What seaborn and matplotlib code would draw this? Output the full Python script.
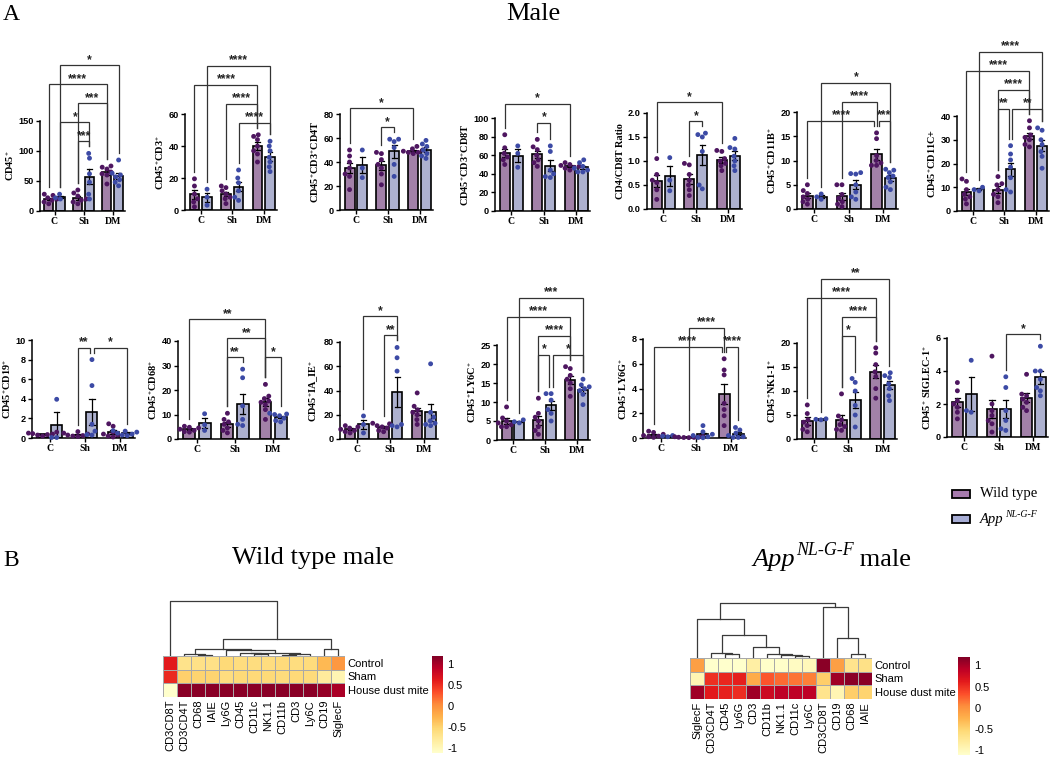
import warnings
import numpy as np
import pandas as pd
import matplotlib
matplotlib.use('Agg')
import matplotlib.pyplot as plt
import seaborn as sns

warnings.filterwarnings('ignore')

# ---- panel A data: points per bar, order C-WT, C-App, Sh-WT, Sh-App, DM-WT, DM-App
groups = ['C', 'Sh', 'DM']
genotypes = ['Wild type', 'App']

cd45 = [[28, 26, 22, 18, 15, 12, 20], [28, 22, 20], [35, 30, 25, 20, 18, 15, 12],
        [96, 88, 62, 48, 28, 20], [75, 73, 70, 65, 62, 60, 45], [85, 63, 60, 57, 52, 48, 42]]
cd3 = [[19.5, 15, 10, 7, 5, 2], [13, 8, 3], [15, 14, 12, 10, 8, 7, 4],
       [25, 20, 17, 12, 8, 6], [47, 46, 44, 40, 37, 35, 30], [43, 40, 37, 33, 30, 27, 24]]
cd4t = [[50, 45, 40, 35, 30, 28, 17], [50, 35, 27], [48, 47, 42, 38, 35, 30, 21],
        [59, 59, 57, 52, 38, 28], [53, 51, 50, 49, 48, 47, 48], [58, 55, 53, 50, 47, 45, 43]]
cd8t = [[82, 68, 62, 58, 55, 50], [70, 62, 47], [77, 69, 66, 60, 55, 52, 48],
        [70, 64, 44, 40, 37, 36], [52, 50, 49, 48, 47, 46, 44], [55, 52, 48, 46, 44, 42, 42]]
ratio = [[1.05, 0.72, 0.6, 0.55, 0.4, 0.2], [1.07, 0.6, 0.38], [0.95, 0.92, 0.72, 0.6, 0.5, 0.4, 0.28],
         [1.58, 1.55, 1.5, 1.2, 0.5, 0.42], [1.22, 1.2, 1.05, 1.0, 0.95, 0.9, 0.8],
         [1.47, 1.28, 1.25, 1.1, 1.0, 0.9, 0.8]]
cd11b = [[5, 3.8, 3.2, 2.5, 2, 1.5, 1], [3.1, 2.5, 2.0], [5.0, 5.0, 3, 2.2, 1.5, 1, 0.5],
         [7.5, 7.3, 7.2, 5, 3.5, 2.5, 2], [15.7, 14.5, 11, 10, 9.5, 9, 9],
         [8.2, 8, 7.5, 6.8, 6.5, 5.6, 4.5, 4]]
cd11c = [[13.5, 12.5, 9, 7, 6, 5, 3], [10, 9, 8.5], [14.5, 11.5, 11, 9, 7, 6, 3.5],
         [27.5, 24, 21.5, 18.5, 14, 9, 8], [38, 35, 32, 31, 30, 28, 27], [35, 34, 30, 28, 25, 23, 18]]
cd19 = [[0.6, 0.5, 0.45, 0.4, 0.35, 0.3, 0.2], [3.95, 0.05, 0.05], [0.65, 0.5, 0.4, 0.3, 0.25, 0.2, 0.15],
        [8.0, 5.35, 1.4, 0.7, 0.3, 0.35], [1.45, 1.2, 0.6, 0.4, 0.3, 0.2, 0.1],
        [0.75, 0.7, 0.6, 0.5, 0.4, 0.3, 0.25]]
cd68 = [[5.2, 4.8, 4.5, 4, 3.5, 3, 2.8], [10.3, 5.8, 3.5], [10.5, 8, 7, 6, 4.5, 3.5, 2.5],
        [28.5, 25, 13.5, 8, 6, 5.5], [22.3, 17.5, 16.5, 15.5, 15, 14, 12, 8],
        [10.5, 10.2, 10, 9.5, 8.5, 7.5, 7]]
iaie = [[11, 10, 9, 8, 7, 6, 5], [19, 12, 5], [13, 12.5, 11, 10, 9, 7, 6],
        [75.5, 67, 56, 12, 11, 10], [38, 27, 24, 22, 20, 16, 12], [62, 22, 18, 15, 13, 12, 11]]
ly6c = [[8.7, 5.8, 5, 4.5, 4, 3.5, 3.5], [5.3, 4.8, 4.5], [11, 7, 6, 5, 3.5, 2.5, 1.5],
        [12.2, 12.2, 10.5, 8, 7, 5], [19.3, 18.8, 17, 16, 15, 13.5, 11.5],
        [16, 14.5, 14, 13.5, 13, 12, 9.3]]
ly6g = [[0.55, 0.45, 0.3, 0.2, 0.15, 0.1, 0.05], [0.2, 0.15, 0.1],
        [0.12, 0.1, 0.08, 0.06, 0.05, 0.04, 0.03], [1.0, 0.5, 0.3, 0.2, 0.1, 0.05, 0.02],
        [6.4, 5.5, 5.1, 2.8, 2.3, 1.8, 1.0], [0.85, 0.65, 0.4, 0.2, 0.1, 0.05, 0.05]]
nk11 = [[7.1, 5.3, 4.0, 3.5, 2.8, 2.0, 1.5], [4.2, 4.1, 4.0], [9.4, 4.8, 4.0, 3.0, 2.6, 2.0, 1.8],
        [12.6, 11.8, 10, 7, 5, 2.5], [19, 17.9, 15.5, 14, 13, 10.5, 8.5],
        [13.8, 13.2, 12.8, 11.5, 10.5, 9, 8]]
siglec = [[3.3, 2.8, 2.2, 2.0, 1.8, 1.5, 1.1], [4.65, 1.6, 1.5], [4.9, 2.0, 1.6, 1.3, 1.0, 0.8, 0.3],
          [3.65, 3.0, 1.6, 1.0, 0.5, 0.4], [3.8, 2.6, 2.5, 2.3, 2.1, 1.8, 1.6],
          [5.5, 4.0, 4.0, 3.5, 3.0, 2.8, 2.5]]

# significance comparisons (bar index a, bar index b, label), listed bottom to top
sig_cd45 = [(2, 3, '***'), (1, 3, '*'), (2, 4, '***'), (0, 4, '****'), (1, 5, '*')]
sig_cd3 = [(3, 5, '****'), (2, 4, '****'), (0, 4, '****'), (1, 5, '****')]
sig_cd4t = [(2, 3, '*'), (0, 4, '*')]
sig_cd8t = [(2, 3, '*'), (0, 4, '*')]
sig_ratio = [(2, 3, '*'), (0, 4, '*')]
sig_cd11b = [(4, 5, '***'), (0, 4, '****'), (2, 4, '****'), (1, 5, '*')]
sig_cd11c = [(2, 3, '**'), (3, 5, '**'), (2, 4, '****'), (0, 4, '****'), (1, 5, '****')]
sig_cd19 = [(2, 3, '**'), (3, 5, '*')]
sig_cd68 = [(2, 3, '**'), (4, 5, '*'), (2, 4, '**'), (0, 4, '**')]
sig_iaie = [(2, 3, '**'), (1, 3, '*')]
sig_ly6c = [(2, 3, '*'), (3, 5, '*'), (2, 4, '****'), (0, 4, '****'), (1, 5, '***')]
sig_ly6g = [(4, 5, '****'), (0, 4, '****'), (2, 4, '****')]
sig_nk11 = [(2, 3, '*'), (2, 4, '****'), (0, 4, '****'), (1, 5, '**')]
sig_siglec = [(3, 5, '*')]

P = r'$^{\mathbf{+}}$'
ylabels = ['CD45' + P, 'CD45' + P + 'CD3' + P, 'CD45' + P + 'CD3' + P + 'CD4T',
           'CD45' + P + 'CD3' + P + 'CD8T', 'CD4/CD8T Ratio', 'CD45' + P + 'CD11B' + P,
           'CD45' + P + 'CD11C+', 'CD45' + P + 'CD19' + P, 'CD45' + P + 'CD68' + P,
           'CD45' + P + 'IA_IE' + P, 'CD45' + P + 'LY6C' + P, 'CD45' + P + 'LY6G' + P,
           'CD45' + P + 'NK1-1' + P, 'CD45' + P + ' SIGLEC-1' + P]
y_max = [150, 60, 80, 100, 2.0, 20, 40, 10, 40, 80, 25, 8, 20, 6]
y_step = [50, 20, 20, 20, 0.5, 5, 10, 2, 10, 20, 5, 2, 5, 2]

# ---- panel B data: row z-scores
conditions = ['Control', 'Sham', 'House dust mite']
wt_cols = ['CD3CD8T', 'CD3CD4T', 'CD68', 'IAIE', 'Ly6G', 'CD45', 'CD11c', 'NK1.1',
           'CD11b', 'CD3', 'Ly6C', 'CD19', 'SiglecF']
wt_control = [0.62, -0.68, -0.65, -0.65, -0.55, -0.6, -0.6, -0.6, -0.57, -0.6, -0.58, -0.3, -0.05]
wt_sham = [0.53, -0.47, -0.5, -0.5, -0.6, -0.55, -0.55, -0.55, -0.58, -0.55, -0.57, -0.8, -0.95]
wt_hdm = [-1.15, 1.15, 1.15, 1.15, 1.15, 1.15, 1.15, 1.15, 1.15, 1.15, 1.15, 1.1, 1.0]
app_cols = ['SiglecF', 'CD3CD4T', 'CD45', 'Ly6G', 'CD3', 'CD11b', 'NK1.1', 'CD11c',
            'Ly6C', 'CD3CD8T', 'CD19', 'CD68', 'IAIE']
app_control = [-0.1, -1.12, -1.13, -1.12, -0.85, -1.1, -1.1, -1.05, -1.0, 1.15, -0.1, -0.7, -0.65]
app_sham = [-0.95, 0.5, 0.55, 0.6, -0.2, 0.3, 0.2, 0.15, 0.1, -0.45, 1.05, 1.15, 1.15]
app_hdm = [1.05, 0.62, 0.58, 0.52, 1.05, 0.8, 0.9, 0.9, 0.9, -0.7, -0.95, -0.45, -0.5]
# dendrograms: (merge height, left, right), leaves are column indices
wt_tree = (168, 0, (51, (20, (5, 1, (3, 2, 3)),
                        (18, 4, (10, (8, 5, (5, 6, 7)), (5, (3, 8, 9), 10)))),
                    (20, 11, 12)))
app_tree = (166, (118, 0, (68, (15, 1, (11, 2, 3)), (33, 4, (13, 5, (8, 6, (5, 7, 8)))))),
            (153, 9, (61, 10, (11, 11, 12))))

# ---- style
plt.rcParams['mathtext.fontset'] = 'custom'
plt.rcParams['mathtext.rm'] = 'Liberation Serif'
plt.rcParams['mathtext.it'] = 'Liberation Serif:italic'
plt.rcParams['mathtext.bf'] = 'Liberation Serif:bold'
wt_bar, app_bar = '#A77BAE', '#A7ADD5'
wt_dot, app_dot = '#4E1660', '#3C4AA5'
SERIF = 'Liberation Serif'
SANS = 'Liberation Sans'

W, H = 1050, 757
fig = plt.figure(figsize=(W / 100, H / 100), dpi=100)


def px_axes(x0, x1, ytop, ybot):
    return fig.add_axes([x0 / W, 1 - ybot / H, (x1 - x0) / W, (ybot - ytop) / H])


def fig_text(x, y, s, **kw):
    return fig.text(x / W, 1 - y / H, s, **kw)


def bar_x(k):
    return k // 2 + (-0.2 if k % 2 == 0 else 0.2)


def bar_panel(box, values, ylabel, ymax, ystep, sigs):
    ax = px_axes(*box)
    rows = [(groups[k // 2], genotypes[k % 2], v) for k, vals in enumerate(values) for v in vals]
    df = pd.DataFrame(rows, columns=['group', 'genotype', 'value'])
    sns.barplot(data=df, x='group', y='value', hue='genotype', order=groups,
                hue_order=genotypes, palette=[wt_bar, app_bar], errorbar='se',
                capsize=0.3, width=0.8, gap=0.22, edgecolor='black', linewidth=1.2,
                err_kws={'color': 'black', 'linewidth': 0.9}, legend=False, ax=ax)
    sns.swarmplot(data=df, x='group', y='value', hue='genotype', order=groups,
                  hue_order=genotypes, palette=[wt_dot, app_dot], dodge=True,
                  size=3.5, legend=False, ax=ax, clip_on=False, zorder=3)
    ax.set_xlim(-0.5, 2.42)
    ax.set_ylim(0, ymax)
    ticks = np.arange(0, ymax + ystep / 2, ystep)
    ax.set_yticks(ticks)
    ax.set_yticklabels([f'{t:.1f}' if ystep < 1 else f'{t:g}' for t in ticks],
                       family=SANS, fontweight='bold', fontsize=6.6)
    ax.set_xticks([0, 1, 2])
    ax.set_xticklabels(groups, family=SERIF, fontweight='bold', fontsize=7)
    ax.set_xlabel('')
    ax.set_ylabel(ylabel, family=SERIF, fontweight='bold', fontsize=7.4, labelpad=2)
    ax.tick_params(length=3, width=1, pad=1.5)
    for sp in ['left', 'bottom']:
        ax.spines[sp].set_linewidth(1.1)
    sns.despine(ax=ax)

    # significance brackets stacked above the data
    s = (box[3] - box[2]) / ymax
    tops = [max(max(v), np.mean(v) + np.std(v, ddof=1) / np.sqrt(len(v))) for v in values]
    base = max(tops) + 12 / s
    step = 19 / s
    levels = []
    for i, (a, b, lab) in enumerate(sigs):
        lv = 0
        for j in range(i):
            a2, b2 = sigs[j][:2]
            if max(a, a2) < min(b, b2):
                lv = max(lv, levels[j] + 1)
        levels.append(lv)
    for i, (a, b, lab) in enumerate(sigs):
        y = base + levels[i] * step
        xa, xb = bar_x(a), bar_x(b)
        for j, (a2, b2, _) in enumerate(sigs):
            if j != i and levels[j] == levels[i]:
                if b2 == a:
                    xa += 0.06
                if a2 == b:
                    xb -= 0.06
        la = min(tops[a] + 7 / s, y)
        lb = min(tops[b] + 7 / s, y)
        ax.plot([xa, xa, xb, xb], [la, y, y, lb], color='#333333', lw=0.9,
                clip_on=False, solid_joinstyle='miter')
        ax.text((xa + xb) / 2, y + 5.5 / s, lab, ha='center', va='center', fontsize=8.8,
                fontweight='bold', family=SANS, color='#222222', clip_on=False)
    return ax


boxes = [(40, 125, 121, 211), (185, 277, 114, 210), (340, 433, 114, 210), (495, 590, 118, 211),
         (647, 742, 113, 209), (797, 898, 112, 209), (957, 1049, 116, 211),
         (32, 135, 340, 438), (178, 289, 341, 439), (340, 438, 342, 439), (497, 590, 345, 440),
         (643, 746, 339, 438), (797, 897, 343, 439), (947, 1048, 338, 437)]
all_values = [cd45, cd3, cd4t, cd8t, ratio, cd11b, cd11c, cd19, cd68, iaie, ly6c, ly6g, nk11, siglec]
all_sigs = [sig_cd45, sig_cd3, sig_cd4t, sig_cd8t, sig_ratio, sig_cd11b, sig_cd11c, sig_cd19,
            sig_cd68, sig_iaie, sig_ly6c, sig_ly6g, sig_nk11, sig_siglec]
for i in range(14):
    bar_panel(boxes[i], all_values[i], ylabels[i], y_max[i], y_step[i], all_sigs[i])


def draw_tree(ax, node):
    if isinstance(node, int):
        return node + 0.5, 0
    h, left, right = node
    xl, hl = draw_tree(ax, left)
    xr, hr = draw_tree(ax, right)
    ax.plot([xl, xl, xr, xr], [hl, h, h, hr], color='#3a3a3a', lw=0.9)
    return (xl + xr) / 2, h


def heat_panel(hbox, dbox, cbox, cols, ctrl, sham, hdm, tree):
    hax = px_axes(*hbox)
    dax = px_axes(*dbox)
    cax = px_axes(*cbox)
    mat = pd.DataFrame([ctrl, sham, hdm], index=conditions, columns=cols)
    sns.heatmap(mat, ax=hax, cbar_ax=cax, cmap='YlOrRd', vmin=-1.12, vmax=1.2,
                linewidths=0.7, linecolor='#a8a8a8')
    hax.yaxis.tick_right()
    hax.set_yticks(np.arange(3) + 0.5)
    hax.set_yticklabels(conditions, rotation=0, fontsize=8, family=SANS)
    hax.set_xticks(np.arange(len(cols)) + 0.5)
    hax.set_xticklabels(cols, rotation=90, fontsize=8, family=SANS)
    hax.tick_params(length=0, pad=2)
    hax.set_xlabel('')
    hax.set_ylabel('')
    cbar = hax.collections[0].colorbar
    cbar.outline.set_visible(False)
    cbar.set_ticks([-1, -0.5, 0, 0.5, 1])
    cbar.set_ticklabels(['-1', '-0.5', '0', '0.5', '1'])
    cax.tick_params(length=0, labelsize=8, pad=3)
    for t in cax.get_yticklabels():
        t.set_family(SANS)
    draw_tree(dax, tree)
    dax.set_xlim(0, len(cols))
    dax.set_ylim(0, tree[0] * 1.01)
    dax.axis('off')


heat_panel((163, 345, 656, 697), (163, 345, 600, 656), (432, 443, 656, 753),
           wt_cols, wt_control, wt_sham, wt_hdm, wt_tree)
heat_panel((690, 872, 658, 699), (690, 872, 602, 658), (958, 970, 657, 755),
           app_cols, app_control, app_sham, app_hdm, app_tree)

# ---- titles, panel letters, legend
fig_text(3, 14, 'A', fontsize=17, family=SERIF, va='center')
fig_text(3, 560, 'B', fontsize=17, family=SERIF, va='center')
fig_text(533, 14, 'Male', fontsize=19, family=SERIF, ha='center', va='center')
fig_text(313, 558, 'Wild type male', fontsize=19, family=SERIF, ha='center', va='center')

renderer = fig.canvas.get_renderer()


def sup_text(x, y, base, sup, size, tail=''):
    t = fig_text(x, y, base, fontsize=size, family=SERIF, style='italic', va='baseline')
    bb = t.get_window_extent(renderer)
    t2 = fig.text((bb.x1 + 1) / W, 1 - y / H + 0.42 * size * 100 / 72 / H, sup,
                  fontsize=size * 0.68, family=SERIF, style='italic', va='baseline')
    if tail:
        bb2 = t2.get_window_extent(renderer)
        fig.text(bb2.x1 / W, 1 - y / H, tail, fontsize=size, family=SERIF, va='baseline')


sup_text(752, 566, 'App', 'NL-G-F', 19, ' male')

fig.patches.append(plt.Rectangle((952 / W, 1 - 498 / H), 18 / W, 8 / H, transform=fig.transFigure,
                                 facecolor=wt_bar, edgecolor='black', linewidth=1.3))
fig.patches.append(plt.Rectangle((952 / W, 1 - 523 / H), 18 / W, 8 / H, transform=fig.transFigure,
                                 facecolor=app_bar, edgecolor='black', linewidth=1.3))
fig_text(980, 494, 'Wild type', fontsize=10.5, family=SERIF, va='center')
sup_text(980, 523, 'App', 'NL-G-F', 10.5)

fig.savefig('out.png', dpi=100)
